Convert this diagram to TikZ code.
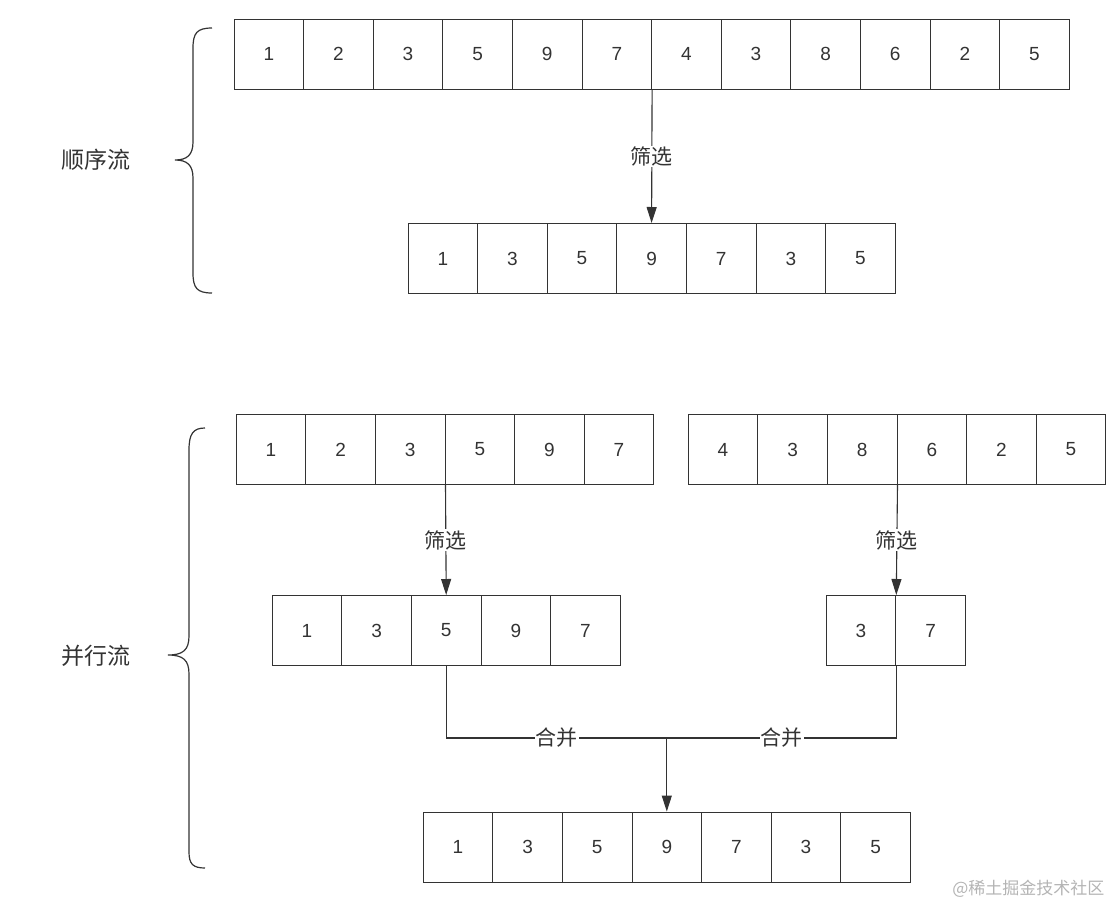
\documentclass[tikz,border=0pt]{standalone}
\usepackage{fontspec}
\setmainfont{Liberation Sans}
\newfontfamily\cjk{Noto Sans CJK SC}
\usepackage{xcolor}
\definecolor{linegrey}{HTML}{333333}
\definecolor{markgrey}{HTML}{B4B4B4}
\usetikzlibrary{arrows.meta,positioning}

\begin{document}
\begin{tikzpicture}[
    x=1pt, y=-1pt,
    every node/.style={font=\fontsize{19}{21}\selectfont, text=linegrey},
    cell/.style={draw=linegrey, line width=1pt, minimum width=69.6pt, minimum height=70pt, inner sep=0pt},
    flow/.style={draw=linegrey, line width=1.1pt, -{Triangle[width=10pt,length=16pt]}},
    mergeline/.style={draw=linegrey, line width=1.1pt},
    tag/.style={fill=white, inner sep=1pt, font=\cjk\fontsize{21}{23}\selectfont},
    side/.style={font=\cjk\fontsize{23}{25}\selectfont},
    curly/.style={draw=linegrey, line width=1.2pt}
]
\useasboundingbox (0,0) rectangle (1114,908);

% Sequential stream (top)
\foreach \v [count=\i] in {1,2,3,5,9,7,4,3,8,6,2,5}
    \node[cell] (a\i) at ({268.8+(\i-1)*69.6},54) {\v};
\foreach \v [count=\i] in {1,3,5,9,7,3,5}
    \node[cell] (b\i) at ({442.8+(\i-1)*69.6},258.5) {\v};
\draw[flow] (a6.south east) -- node[tag] {筛选} (b4.north);

\node[side] (seq) at (96,160) {顺序流};
\draw[curly] (212,28) .. controls (197,28) and (193,33) .. (193,48) -- (193,142)
    .. controls (193,155) and (187,160) .. (175,160)
    .. controls (187,160) and (193,165) .. (193,178) -- (193,273)
    .. controls (193,288) and (197,293) .. (212,293);

% Parallel stream (bottom)
\foreach \v [count=\i] in {1,2,3,5,9,7}
    \node[cell] (l\i) at ({271+(\i-1)*69.6},449.5) {\v};
\foreach \v [count=\i] in {4,3,8,6,2,5}
    \node[cell] (r\i) at ({723+(\i-1)*69.6},449.5) {\v};
\foreach \v [count=\i] in {1,3,5,9,7}
    \node[cell] (p\i) at ({307+(\i-1)*69.6},630.5) {\v};
\foreach \v [count=\i] in {3,7}
    \node[cell] (q\i) at ({861+(\i-1)*69.6},630.5) {\v};
\foreach \v [count=\i] in {1,3,5,9,7,3,5}
    \node[cell] (m\i) at ({458+(\i-1)*69.6},847) {\v};

\draw[flow] (l3.south east) -- node[tag] {筛选} (p3.north);
\draw[flow] (r3.south east) -- node[tag] {筛选} (q1.north east);

% Merge
\coordinate (merge) at (m4.north |- 0,738);
\draw[mergeline] (p3.south) |- node[tag, pos=0.75] {合并} (merge);
\draw[mergeline] (q1.south east) |- node[tag, pos=0.75] {合并} (merge);
\draw[flow] (merge) -- (m4.north);

\node[side] (par) at (96,656) {并行流};
\draw[curly] (205,428) .. controls (193,428) and (189,434) .. (189,450) -- (189,636)
    .. controls (189,650) and (183,655) .. (168,655)
    .. controls (183,655) and (189,660) .. (189,674) -- (189,852)
    .. controls (189,864) and (193,868) .. (205,868);

% Watermark
\node[font=\cjk\fontsize{17}{19}\selectfont, text=markgrey, anchor=east] (mark) at (1108,889) {@稀土掘金技术社区};
\end{tikzpicture}
\end{document}
